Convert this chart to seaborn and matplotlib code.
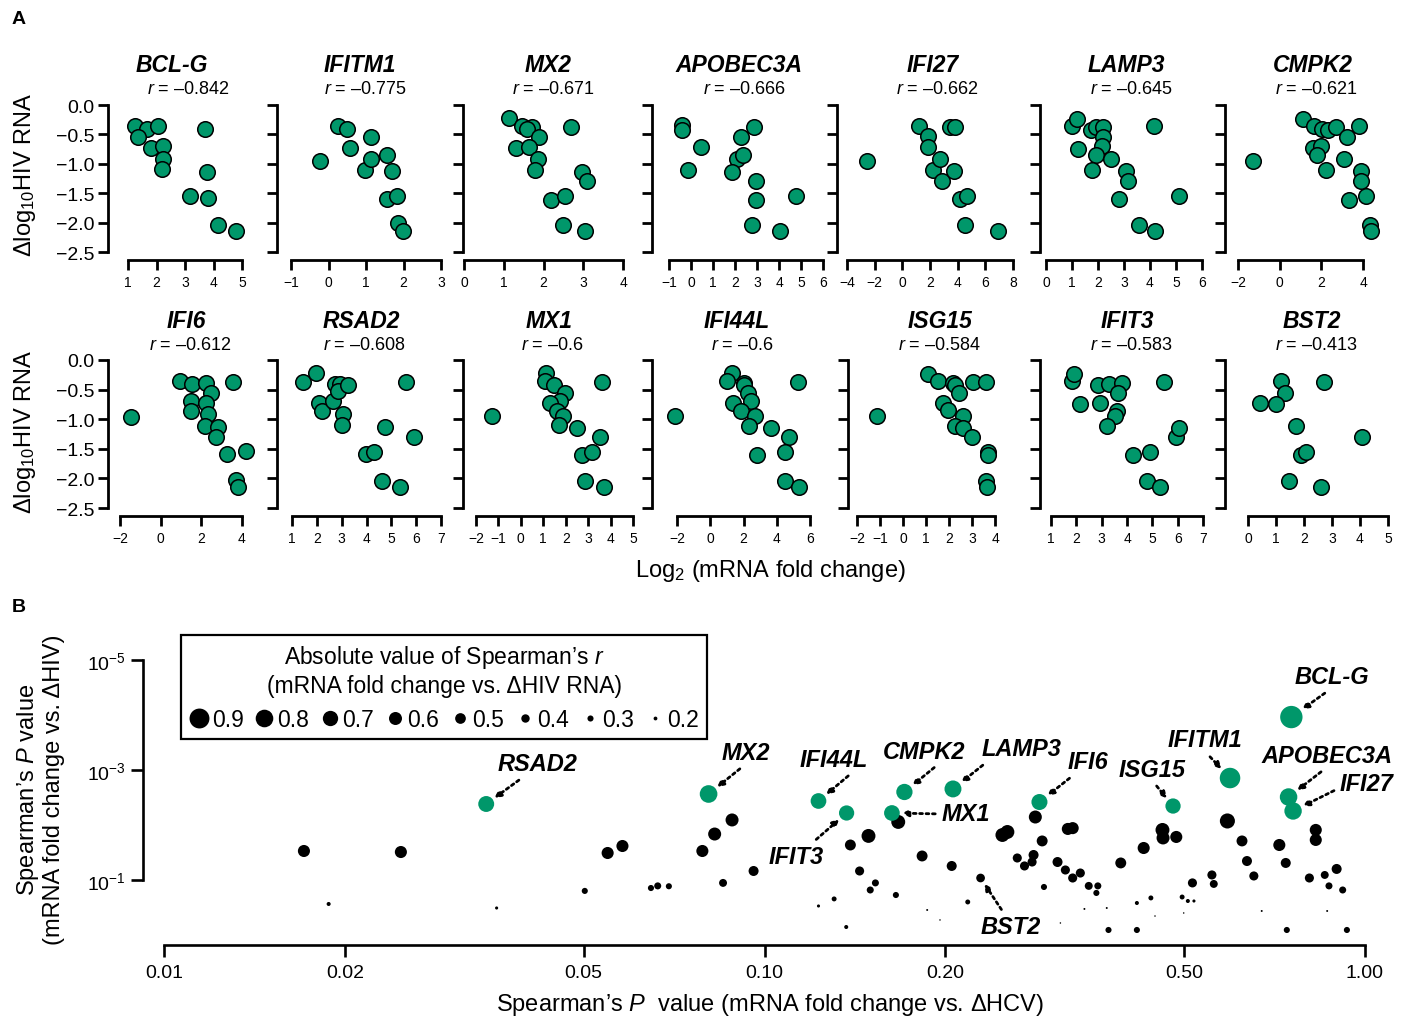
import numpy as np
import matplotlib
matplotlib.use("Agg")
import matplotlib.pyplot as plt
import seaborn as sns
from matplotlib.lines import Line2D
from matplotlib.ticker import NullLocator

sns.set_style("ticks")
plt.rcParams['font.family'] = ['Liberation Sans', 'DejaVu Sans']
plt.rcParams['mathtext.fontset'] = 'custom'
plt.rcParams['mathtext.rm'] = 'Liberation Sans'
plt.rcParams['mathtext.it'] = 'Liberation Sans:italic'
plt.rcParams['mathtext.bf'] = 'Liberation Sans:bold'
for key in ['text.color', 'axes.labelcolor', 'xtick.color', 'ytick.color', 'axes.edgecolor']:
    plt.rcParams[key] = 'black'

GREEN = '#00976A'

# ------------------------------------------------------------------ data: panel A
genes_top = ["BCL-G", "IFITM1", "MX2", "APOBEC3A", "IFI27", "LAMP3", "CMPK2"]
genes_bottom = ["IFI6", "RSAD2", "MX1", "IFI44L", "ISG15", "IFIT3", "BST2"]
r_values = {"BCL-G": "–0.842", "IFITM1": "–0.775", "MX2": "–0.671", "APOBEC3A": "–0.666",
            "IFI27": "–0.662", "LAMP3": "–0.645", "CMPK2": "–0.621", "IFI6": "–0.612",
            "RSAD2": "–0.608", "MX1": "–0.6", "IFI44L": "–0.6", "ISG15": "–0.584",
            "IFIT3": "–0.583", "BST2": "–0.413"}

fold_bclg = [1.26, 1.66, 2.07, 1.34, 1.81, 2.24, 2.22, 2.21, 3.70, 3.76, 3.17, 3.81, 4.16, 4.80]
hiv_bclg = [-0.35, -0.40, -0.36, -0.54, -0.73, -0.70, -0.92, -1.09, -0.41, -1.14, -1.55, -1.58, -2.04, -2.14]
fold_ifitm1 = [0.26, 0.48, -0.24, 0.57, 1.12, 0.97, 1.12, 1.55, 1.68, 1.57, 1.82, 1.84, 1.98]
hiv_ifitm1 = [-0.35, -0.41, -0.96, -0.73, -0.54, -1.10, -0.92, -0.85, -1.13, -1.60, -1.54, -2.00, -2.14]
fold_mx2 = [1.14, 1.45, 1.70, 1.59, 2.68, 1.89, 1.32, 1.64, 1.85, 1.79, 2.97, 3.10, 2.18, 2.54, 2.48, 3.04]
hiv_mx2 = [-0.22, -0.35, -0.37, -0.41, -0.37, -0.55, -0.73, -0.71, -0.92, -1.10, -1.14, -1.30, -1.61, -1.54, -2.04, -2.14]
fold_apobec3a = [-0.41, -0.41, 0.47, -0.14, 2.85, 2.29, 2.09, 2.36, 1.88, 2.94, 2.94, 4.76, 2.79, 4.06]
hiv_apobec3a = [-0.34, -0.42, -0.71, -1.10, -0.38, -0.55, -0.92, -0.85, -1.14, -1.30, -1.61, -1.55, -2.04, -2.14]
fold_ifi27 = [-2.55, 1.20, 1.85, 1.85, 2.20, 2.75, 2.85, 3.71, 3.47, 3.78, 4.14, 4.68, 4.50, 6.92]
hiv_ifi27 = [-0.96, -0.35, -0.52, -0.72, -1.10, -0.92, -1.30, -1.13, -0.38, -0.37, -1.60, -1.55, -2.04, -2.14]
fold_lamp3 = [0.99, 1.18, 1.22, 1.72, 1.94, 2.19, 2.21, 2.15, 1.92, 1.76, 2.51, 3.07, 3.17, 2.81, 4.14, 5.13, 3.59, 4.20]
hiv_lamp3 = [-0.35, -0.23, -0.74, -0.42, -0.38, -0.38, -0.55, -0.69, -0.85, -1.10, -0.92, -1.13, -1.30, -1.60, -0.36, -1.55, -2.04, -2.14]
fold_cmpk2 = [1.10, 1.65, 2.02, 2.34, 2.71, 3.79, 3.22, 1.62, 1.99, 1.78, 2.23, 3.10, 3.90, 3.90, 3.31, 4.16, 4.35, 4.38, -1.28]
hiv_cmpk2 = [-0.23, -0.35, -0.41, -0.42, -0.38, -0.36, -0.55, -0.73, -0.70, -0.85, -1.10, -0.92, -1.13, -1.30, -1.61, -1.55, -2.04, -2.14, -0.96]
fold_ifi6 = [-1.48, 0.94, 1.55, 1.48, 1.48, 2.25, 2.46, 2.22, 2.33, 2.20, 2.82, 2.74, 3.28, 4.21, 3.56, 3.72, 3.80]
hiv_ifi6 = [-0.96, -0.36, -0.41, -0.69, -0.86, -0.39, -0.55, -0.73, -0.91, -1.11, -1.14, -1.30, -1.59, -1.54, -0.38, -2.03, -2.14]
fold_rsad2 = [1.44, 1.98, 2.09, 2.21, 2.66, 2.75, 2.95, 2.86, 3.26, 3.06, 3.02, 3.97, 4.31, 4.74, 5.59, 5.91, 4.61, 5.35]
hiv_rsad2 = [-0.37, -0.22, -0.73, -0.86, -0.70, -0.41, -0.41, -0.53, -0.42, -0.91, -1.09, -1.59, -1.55, -1.14, -0.38, -1.30, -2.04, -2.14]
fold_mx1 = [-1.30, 1.13, 1.08, 1.46, 1.98, 1.76, 1.31, 1.61, 1.86, 1.68, 2.50, 3.62, 3.51, 2.72, 3.17, 2.87, 3.72]
hiv_mx1 = [-0.95, -0.22, -0.36, -0.42, -0.55, -0.69, -0.73, -0.86, -0.95, -1.09, -1.15, -0.38, -1.30, -1.60, -1.55, -2.04, -2.14]
fold_ifi44l = [-2.14, 1.30, 1.00, 2.00, 2.00, 2.30, 1.36, 2.46, 1.86, 2.70, 2.36, 3.64, 5.30, 4.76, 2.84, 4.50, 4.50, 5.36]
hiv_ifi44l = [-0.95, -0.22, -0.36, -0.39, -0.43, -0.56, -0.73, -0.70, -0.86, -0.94, -1.11, -1.15, -0.38, -1.30, -1.60, -1.55, -2.04, -2.14]
fold_isg15 = [-1.15, 1.09, 1.53, 2.18, 2.26, 2.44, 1.75, 1.97, 2.62, 2.26, 2.62, 3.05, 3.61, 3.01, 3.71, 3.71, 3.61, 3.64]
hiv_isg15 = [-0.95, -0.24, -0.36, -0.39, -0.43, -0.56, -0.73, -0.84, -0.94, -1.11, -1.15, -0.38, -0.38, -1.30, -1.55, -1.60, -2.04, -2.14]
fold_ifit3 = [1.83, 1.92, 2.15, 2.87, 3.27, 3.79, 3.66, 2.94, 3.59, 3.53, 3.20, 5.46, 5.95, 6.06, 4.25, 4.91, 4.80, 5.30]
hiv_ifit3 = [-0.36, -0.24, -0.74, -0.42, -0.41, -0.39, -0.55, -0.72, -0.86, -0.94, -1.11, -0.38, -1.30, -1.15, -1.60, -1.55, -2.04, -2.14]
fold_bst2 = [1.19, 1.33, 0.42, 1.01, 1.73, 2.70, 4.08, 1.90, 2.08, 1.45, 2.62]
hiv_bst2 = [-0.36, -0.55, -0.73, -0.74, -1.11, -0.38, -1.30, -1.60, -1.55, -2.04, -2.14]

FOLD = {"BCL-G": fold_bclg, "IFITM1": fold_ifitm1, "MX2": fold_mx2, "APOBEC3A": fold_apobec3a,
        "IFI27": fold_ifi27, "LAMP3": fold_lamp3, "CMPK2": fold_cmpk2, "IFI6": fold_ifi6,
        "RSAD2": fold_rsad2, "MX1": fold_mx1, "IFI44L": fold_ifi44l, "ISG15": fold_isg15,
        "IFIT3": fold_ifit3, "BST2": fold_bst2}
HIV = {"BCL-G": hiv_bclg, "IFITM1": hiv_ifitm1, "MX2": hiv_mx2, "APOBEC3A": hiv_apobec3a,
       "IFI27": hiv_ifi27, "LAMP3": hiv_lamp3, "CMPK2": hiv_cmpk2, "IFI6": hiv_ifi6,
       "RSAD2": hiv_rsad2, "MX1": hiv_mx1, "IFI44L": hiv_ifi44l, "ISG15": hiv_isg15,
       "IFIT3": hiv_ifit3, "BST2": hiv_bst2}
# x tick range (first, last, step) per panel
XTICKS = {"BCL-G": (1, 5, 1), "IFITM1": (-1, 3, 1), "MX2": (0, 4, 1), "APOBEC3A": (-1, 6, 1),
          "IFI27": (-4, 8, 2), "LAMP3": (0, 6, 1), "CMPK2": (-2, 4, 2), "IFI6": (-2, 4, 2),
          "RSAD2": (1, 7, 1), "MX1": (-2, 5, 1), "IFI44L": (-2, 6, 2), "ISG15": (-2, 4, 1),
          "IFIT3": (1, 7, 1), "BST2": (0, 5, 1)}
y_ticks_a = [0.0, -0.5, -1.0, -1.5, -2.0, -2.5]

# ------------------------------------------------------------------ data: panel B
hcv_p_black = [0.0171, 0.0248, 0.0188, 0.0358, 0.0502, 0.0548, 0.058, 0.0647, 0.0664, 0.0693,
               0.0788, 0.0826, 0.0883, 0.0853, 0.0959, 0.123, 0.1306, 0.1368, 0.139, 0.149,
               0.144, 0.153, 0.150, 0.1655, 0.167, 0.183, 0.205, 0.1866, 0.196, 0.218,
               0.249, 0.2538, 0.2825, 0.290, 0.2636, 0.271, 0.2806, 0.279, 0.292, 0.320,
               0.326, 0.3076, 0.317, 0.326, 0.3357, 0.3467, 0.359, 0.357, 0.341, 0.3715,
               0.311, 0.374, 0.417, 0.417, 0.44, 0.392, 0.428, 0.46, 0.461, 0.485,
               0.447, 0.516, 0.496, 0.507, 0.519, 0.499, 0.556, 0.56, 0.590, 0.624,
               0.636, 0.653, 0.673, 0.741, 0.72, 0.738, 0.808, 0.828, 0.828, 0.857,
               0.871, 0.897, 0.918, 0.865, 0.933, 0.229]
hiv_p_black = [0.0297, 0.031, 0.273, 0.323, 0.158, 0.0323, 0.0241, 0.14, 0.128, 0.13,
               0.0297, 0.0146, 0.0081, 0.113, 0.0686, 0.297, 0.221, 0.716, 0.0231, 0.0158,
               0.0686, 0.113, 0.152, 0.1875, 0.0088, 0.0366, 0.0556, 0.351, 0.533, 0.251,
               0.0152, 0.0134, 0.00716, 0.0195, 0.0398, 0.0556, 0.0351, 0.0471, 0.134, 0.0118,
               0.0114, 0.0471, 0.0658, 0.092, 0.0747, 0.128, 0.128, 0.172, 0.336, 0.323,
               0.605, 0.811, 0.811, 0.262, 0.212, 0.049, 0.0262, 0.0123, 0.0172, 0.0165,
               0.452, 0.113, 0.204, 0.241, 0.241, 0.398, 0.081, 0.118, 0.00845, 0.0195,
               0.0452, 0.0845, 0.366, 0.811, 0.0231, 0.049, 0.092, 0.0123, 0.0187, 0.081,
               0.128, 0.063, 0.152, 0.366, 0.811, 0.092]
abs_r_black = [0.56, 0.56, 0.21, 0.17, 0.30, 0.56, 0.56, 0.30, 0.34, 0.30,
               0.56, 0.60, 0.60, 0.38, 0.47, 0.17, 0.25, 0.21, 0.51, 0.64,
               0.43, 0.34, 0.34, 0.30, 0.64, 0.51, 0.47, 0.12, 0.10, 0.25,
               0.64, 0.64, 0.60, 0.51, 0.43, 0.43, 0.47, 0.43, 0.30, 0.56,
               0.56, 0.47, 0.43, 0.43, 0.43, 0.38, 0.34, 0.30, 0.12, 0.12,
               0.10, 0.30, 0.30, 0.21, 0.25, 0.51, 0.56, 0.64, 0.60, 0.56,
               0.10, 0.43, 0.25, 0.21, 0.17, 0.10, 0.43, 0.38, 0.69, 0.51,
               0.47, 0.43, 0.12, 0.30, 0.56, 0.47, 0.43, 0.56, 0.56, 0.38,
               0.34, 0.47, 0.34, 0.12, 0.30, 0.413]

green_genes = ["RSAD2", "MX2", "IFI44L", "IFIT3", "CMPK2", "MX1", "LAMP3", "IFI6", "ISG15",
               "IFITM1", "BCL-G", "APOBEC3A", "IFI27"]
hcv_p_green = [0.0344, 0.0807, 0.123, 0.137, 0.171, 0.163, 0.206, 0.287, 0.479, 0.596, 0.754, 0.746, 0.759]
hiv_p_green = [0.00415, 0.00273, 0.00366, 0.00605, 0.00251, 0.00605, 0.00221, 0.00382, 0.00452,
               0.00140, 0.000109, 0.00310, 0.00556]
abs_r_green = [0.608, 0.671, 0.600, 0.583, 0.621, 0.600, 0.645, 0.612, 0.584, 0.775, 0.842, 0.666, 0.662]

bst2_point = (0.229, 0.092)
legend_r = [0.9, 0.8, 0.7, 0.6, 0.5, 0.4, 0.3, 0.2]
x_ticks_b = [0.01, 0.02, 0.05, 0.10, 0.20, 0.50, 1.00]
x_ticklabels_b = ["0.01", "0.02", "0.05", "0.10", "0.20", "0.50", "1.00"]
y_ticks_b = [1e-5, 1e-3, 1e-1]
y_ticklabels_b = [r"$10^{-5}$", r"$10^{-3}$", r"$10^{-1}$"]

# ------------------------------------------------------------------ layout (pixels)
W, H = 1404, 1020
fig = plt.figure(figsize=(W / 100, H / 100), dpi=100)


def rect(l, t, r, b):
    return [l / W, 1 - b / H, (r - l) / W, (b - t) / H]


# per panel: y-spine px, first tick px, last tick px, title centre, r centre
LAYOUT = {"BCL-G": (108, 128, 242, 172, 188), "IFITM1": (277, 291, 441, 360, 365),
          "MX2": (463, 464, 623, 548, 553), "APOBEC3A": (652, 669, 823, 739, 744),
          "IFI27": (837, 847, 1013, 933, 937), "LAMP3": (1040, 1046, 1202, 1126, 1131),
          "CMPK2": (1225, 1238, 1363, 1313, 1316),
          "IFI6": (108, 120, 242, 186, 190), "RSAD2": (277, 292, 441, 361, 364),
          "MX1": (463, 476, 633, 549, 552), "IFI44L": (652, 677, 810, 737, 742),
          "ISG15": (848, 857, 995, 940, 940), "IFIT3": (1040, 1051, 1203, 1127, 1131),
          "BST2": (1225, 1248, 1388, 1312, 1316)}
ROWS = [(genes_top, 106, 253, 65, 89), (genes_bottom, 361, 509, 322, 345)]


def fmt(v):
    s = f"{v:g}"
    return s.replace("-", "\u2212")


for genes, ytop, ybot, ytitle, yr in ROWS:
    for i, g in enumerate(genes):
        spine, p0, p1, tcx, rcx = LAYOUT[g]
        t0, t1, step = XTICKS[g]
        ppu = (p1 - p0) / (t1 - t0)
        xmin = t0 - (p0 - spine) / ppu
        ax = fig.add_axes(rect(spine, ytop, p1, ybot))
        sns.scatterplot(x=FOLD[g], y=HIV[g], ax=ax, s=125, color=GREEN, edgecolor='black',
                        linewidth=1.1, clip_on=False, zorder=3, legend=False)
        ax.set_xlim(xmin, t1)
        ax.set_ylim(-2.5, 0)
        ax.spines[['top', 'right']].set_visible(False)
        for sp in ['left', 'bottom']:
            ax.spines[sp].set_linewidth(2)
        ax.spines['left'].set_bounds(-2.5, 0)
        ax.spines['bottom'].set_bounds(t0, t1)
        ax.spines['bottom'].set_position(('outward', 5.8))
        xt = np.arange(t0, t1 + step / 2, step)
        ax.set_xticks(xt)
        ax.set_xticklabels([fmt(v) for v in xt], fontsize=10)
        ax.set_yticks(y_ticks_a)
        if i == 0:
            ax.set_yticklabels([f"{v:.1f}".replace("-", "\u2212") for v in y_ticks_a], fontsize=14)
        else:
            ax.set_yticklabels([])
        ax.tick_params(axis='both', direction='out', length=7, width=2, color='black',
                       labelcolor='black')
        ax.tick_params(axis='x', pad=4)
        ax.tick_params(axis='y', pad=3)
        ax.set_xlabel("")
        ax.set_ylabel("")
        fig.text(tcx / W, 1 - ytitle / H, g, ha='center', va='center', fontsize=16.5,
                 fontweight='bold', fontstyle='italic', color='black')
        fig.text(rcx / W, 1 - yr / H, r"$r$ = " + r_values[g], ha='center', va='center',
                 fontsize=13, color='black')

for yc in (175, 432):
    fig.text(25 / W, 1 - yc / H, r"$\Delta$log$_{10}$HIV RNA", rotation=90, ha='center',
             va='center', fontsize=17, color='black')
fig.text(770 / W, 1 - 571 / H, r"Log$_2$ (mRNA fold change)", ha='center', va='center',
         fontsize=17, color='black')
fig.text(12 / W, 1 - 20 / H, "A", ha='left', va='center', fontsize=14, fontweight='bold', color='black')
fig.text(12 / W, 1 - 607 / H, "B", ha='left', va='center', fontsize=14, fontweight='bold', color='black')

# ------------------------------------------------------------------ panel B
axB = fig.add_axes(rect(143, 640, 1380, 940))
axB.set_xscale('log')
axB.set_yscale('log')


def area(r, k):
    d = max(k * r - 0.8, 1.5) * 0.72
    return d * d


sns.scatterplot(x=hcv_p_black, y=hiv_p_black, ax=axB, s=[area(r, 23) for r in abs_r_black],
                color='black', linewidth=0, clip_on=False, zorder=3, legend=False)
sns.scatterplot(x=hcv_p_green, y=hiv_p_green, ax=axB, s=[area(r, 27.5) for r in abs_r_green],
                color=GREEN, linewidth=0, clip_on=False, zorder=4, legend=False)

axB.set_xlim(10 ** -2.035, 10 ** 0.025)
axB.set_ylim(10 ** 0.073, 10 ** -5.382)
axB.spines[['top', 'right']].set_visible(False)
for sp in ['left', 'bottom']:
    axB.spines[sp].set_linewidth(1.9)
axB.spines['left'].set_bounds(1e-5, 1e-1)
axB.spines['bottom'].set_bounds(0.01, 1.0)
axB.spines['bottom'].set_position(('outward', 4.5))
axB.set_xticks(x_ticks_b)
axB.set_xticklabels(x_ticklabels_b, fontsize=14)
axB.set_yticks(y_ticks_b)
axB.set_yticklabels(y_ticklabels_b, fontsize=14)
axB.xaxis.set_minor_locator(NullLocator())
axB.yaxis.set_minor_locator(NullLocator())
axB.tick_params(axis='both', direction='out', length=8.5, width=1.9, color='black', labelcolor='black')
axB.tick_params(axis='x', pad=5)
axB.tick_params(axis='y', pad=4)
axB.set_xlabel("")
axB.set_ylabel("")

DOTTED = (0, (1.0, 1.3))

# annotations: label offset (points) and arrow start on the label box
LABELS = {"RSAD2": ((37, 29), (0.35, 0)), "MX2": ((27, 30), (0.5, 0)),
          "IFI44L": ((11, 30), (0.8, 0)), "IFIT3": ((-36, -31), (0.75, 1)),
          "CMPK2": ((14, 29.5), (0.7, 0)), "MX1": ((53, -0.7), (0, 0.5)),
          "LAMP3": ((49, 29), (0.1, 0)), "IFI6": ((35, 29), (0.2, 0)),
          "ISG15": ((-15, 26.6), (0.5, 0)), "IFITM1": ((-18, 27.4), (0.5, 0)),
          "BCL-G": ((29, 29), (0.5, 0)), "APOBEC3A": ((28, 30), (0.5, 0)),
          "IFI27": ((53, 20), (0, 0.3))}
for g, hx, hy, r in zip(green_genes, hcv_p_green, hiv_p_green, abs_r_green):
    off, rel = LABELS[g]
    rad = (27.5 * r - 0.8) * 0.72 / 2
    axB.annotate(g, xy=(hx, hy), xytext=off, textcoords='offset points', ha='center', va='center',
                 fontsize=17, fontweight='bold', fontstyle='italic', zorder=6, color='black',
                 arrowprops=dict(arrowstyle='-|>', linestyle=DOTTED, lw=2.0, color='black',
                                 shrinkA=2, shrinkB=rad + 1.5, mutation_scale=9, relpos=rel))
axB.annotate("BST2", xy=bst2_point, xytext=(22, -35), textcoords='offset points', ha='center',
             va='center', fontsize=17, fontweight='bold', fontstyle='italic', zorder=6, color='black',
             arrowprops=dict(arrowstyle='-|>', linestyle=DOTTED, lw=2.0, color='black',
                             shrinkA=2, shrinkB=5, mutation_scale=9, relpos=(0.4, 1)))

handles = [Line2D([], [], marker='o', ls='', color='black', markeredgewidth=0,
                  markersize=(23 * v - 0.8) * 0.72) for v in legend_r]
leg = axB.legend(handles, [f"{v:.1f}" for v in legend_r], ncol=8,
                 title="Absolute value of Spearman\u2019s $r$\n(mRNA fold change vs. \u0394HIV RNA)",
                 loc='upper left', bbox_to_anchor=(181 / W, 1 - 636 / H), bbox_transform=fig.transFigure,
                 fontsize=16.5, title_fontsize=16.5, frameon=True, fancybox=False, edgecolor='black',
                 handlelength=0.9, handletextpad=0.1, columnspacing=0.45, borderpad=0.35,
                 borderaxespad=0, framealpha=1)
leg.get_frame().set_linewidth(1.6)
leg.get_title().set_multialignment('center')
leg.get_title().set_color('black')
for t in leg.get_texts():
    t.set_color('black')

fig.text(40 / W, 1 - 790 / H, "Spearman\u2019s $P$ value\n(mRNA fold change vs. \u0394HIV)", rotation=90,
         ha='center', va='center', multialignment='center', fontsize=17, linespacing=1.15, color='black')
fig.text(770 / W, 1 - 1005 / H, "Spearman\u2019s $P$  value (mRNA fold change vs. \u0394HCV)",
         ha='center', va='center', fontsize=17, color='black')

fig.savefig("out.png", dpi=100)
